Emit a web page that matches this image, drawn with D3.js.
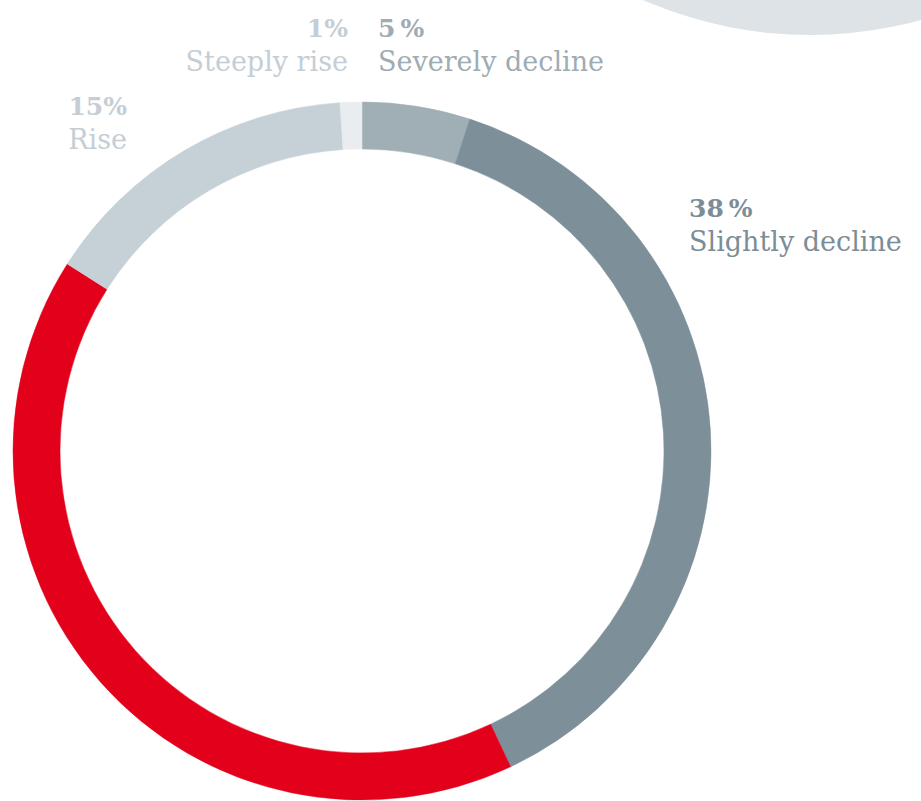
<!DOCTYPE html>
<html>
<head>
<meta charset="utf-8">
<script src="https://cdn.jsdelivr.net/npm/d3@7/dist/d3.min.js"></script>
<style>
  html, body { margin: 0; padding: 0; background: #fff; }
  svg { display: block; }
</style>
</head>
<body>
<script>
// Data
const categories = ["Severely decline", "Slightly decline", "Unchanged", "Rise", "Steeply rise"];
const values = [5, 38, 41, 15, 1];
const percentLabels = ["5\u2009%", "38\u2009%", null, "15%", "1%"];
const segmentColors = ["#a0aeb5", "#7d8f98", "#e2001a", "#c6d1d7", "#e9edef"];
const labelColors = ["#9eacb4", "#7b8d96", null, "#c4ced4", "#c4ced4"];

const W = 921, H = 801;
const cx = 362, cy = 451, rOuter = 349, rInner = 302;

const svg = d3.select("body").append("svg").attr("width", W).attr("height", H);

// decorative background circle (top right)
svg.append("circle").attr("cx", 810).attr("cy", -381).attr("r", 416).attr("fill", "#dde3e6");

const pie = d3.pie().value(d => d).sort(null);
const arc = d3.arc().innerRadius(rInner).outerRadius(rOuter);

const g = svg.append("g").attr("transform", `translate(${cx},${cy})`);
g.selectAll("path").data(pie(values)).join("path")
  .attr("d", arc)
  .attr("fill", (d, i) => segmentColors[i])
  .attr("stroke", (d, i) => segmentColors[i])
  .attr("stroke-width", 0.5);

// label placement (anchor x, baseline of percent line, anchor)
const labelPos = [
  { x: 378, y: 37, anchor: "start" },
  { x: 689, y: 217, anchor: "start" },
  null,
  { x: 127, y: 115, anchor: "end" },
  { x: 348, y: 37, anchor: "end" }
];
const font = "'DejaVu Serif', 'Liberation Serif', serif";
categories.forEach((c, i) => {
  const p = labelPos[i];
  if (!p || !percentLabels[i]) return;
  const t = svg.append("g");
  t.append("text").attr("x", p.x).attr("y", p.y)
    .attr("text-anchor", p.anchor)
    .attr("font-family", font).attr("font-weight", "bold").attr("font-size", 25)
    .attr("fill", labelColors[i]).text(percentLabels[i]);
  t.append("text").attr("x", p.x).attr("y", p.y + 34)
    .attr("text-anchor", p.anchor)
    .attr("font-family", font).attr("font-size", 27)
    .attr("fill", labelColors[i]).text(c);
});
</script>
</body>
</html>
